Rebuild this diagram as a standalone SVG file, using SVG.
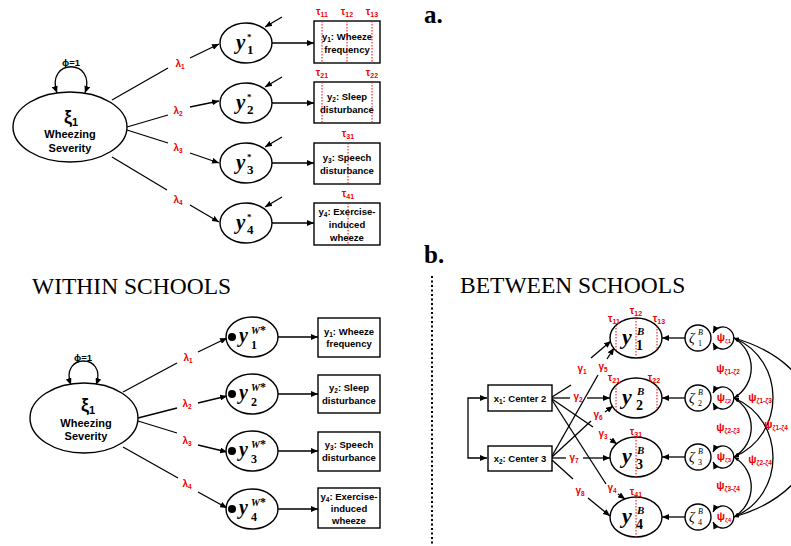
<svg xmlns="http://www.w3.org/2000/svg" width="791" height="546" viewBox="0 0 791 546">
<defs>
<marker id="ah" markerWidth="7" markerHeight="6" refX="7" refY="3" orient="auto-start-reverse" markerUnits="userSpaceOnUse"><path d="M0,0 L7,3 L0,6 z" fill="#000"/></marker>
<marker id="as" markerWidth="5" markerHeight="4" refX="5" refY="2" orient="auto-start-reverse" markerUnits="userSpaceOnUse"><path d="M0,0 L5,2 L0,4 z" fill="#000"/></marker>
</defs>
<style>
.n{fill:#fff;stroke:#000;stroke-width:1.4}
.l{fill:none;stroke:#000;stroke-width:1.3}
.a{marker-end:url(#ah)}
.aa{marker-start:url(#ah);marker-end:url(#ah)}
.cs{marker-start:url(#as);marker-end:url(#as)}
.t{stroke:#e00;stroke-width:1;stroke-dasharray:1.5 1.5;fill:none}
.r{fill:#e00;font-family:'Liberation Sans',Arial,sans-serif;font-weight:bold;font-size:10px;text-anchor:middle}
.p{fill:#e00;font-family:'Liberation Sans',Arial,sans-serif;font-weight:bold;font-size:11px;text-anchor:middle}
.b{fill:#000;font-family:'Liberation Sans',Arial,sans-serif;font-weight:bold;font-size:9.5px;text-anchor:middle}
.bl{fill:#000;font-family:'Liberation Sans',Arial,sans-serif;font-weight:bold;font-size:11px;text-anchor:middle}
.xi{fill:#000;font-family:'Liberation Sans',Arial,sans-serif;font-weight:bold;font-size:18px;text-anchor:middle}
.ttl{font-family:'Liberation Serif','Times New Roman',serif;font-size:23.5px}
.hd{font-family:'Liberation Serif','Times New Roman',serif;font-size:25px;font-weight:bold}
.y{font-family:'Liberation Serif','Times New Roman',serif;font-style:italic;font-weight:bold}
.z{font-family:'Liberation Serif','Times New Roman',serif;font-style:italic}
.s{font-family:'Liberation Serif','Times New Roman',serif;font-weight:bold}
</style>
<rect width="791" height="546" fill="#fff"/>

<text class="hd" x="424" y="23">a.</text>
<text class="hd" x="424" y="263">b.</text>
<line x1="432" y1="276" x2="432" y2="546" stroke="#000" stroke-width="2" stroke-dasharray="2 2.5"/>
<text class="ttl" x="32" y="294">WITHIN SCHOOLS</text>
<text class="ttl" x="460" y="293">BETWEEN SCHOOLS</text>

<!-- ================= PANEL A ================= -->
<g id="connectors-a">
<path class="l aa" d="M57,93 C45,58 97,58 85,93"/>
<text class="b" x="71" y="66">ϕ=1</text>
<path class="l" d="M112,100 L168,68"/><path class="l a" d="M190,58 L219,44"/>
<text class="r" x="180" y="67">λ<tspan font-size="6.5" dy="2">1</tspan></text>
<path class="l" d="M127,127 L168,115"/><path class="l a" d="M190,107 L219,101"/>
<text class="r" x="178" y="114">λ<tspan font-size="6.5" dy="2">2</tspan></text>
<path class="l" d="M127,130 L168,143"/><path class="l a" d="M190,153 L219,163"/>
<text class="r" x="178" y="151">λ<tspan font-size="6.5" dy="2">3</tspan></text>
<path class="l" d="M112,157 L167,190"/><path class="l a" d="M190,205 L219,222"/>
<text class="r" x="178" y="203">λ<tspan font-size="6.5" dy="2">4</tspan></text>
<path class="l a" d="M272,43 L314,43"/>
<path class="l a" d="M272,103 L314,103"/>
<path class="l a" d="M272,163 L314,163"/>
<path class="l a" d="M272,223 L314,223"/>
<path class="l a" d="M282,17 L265,27"/>
<path class="l a" d="M282,77 L265,87"/>
<path class="l a" d="M282,137 L265,147"/>
<path class="l a" d="M282,197 L265,207"/>
</g>

<g id="a-xi">
<ellipse class="n" cx="70" cy="127" rx="57" ry="35"/>
<text class="xi" x="71" y="123">ξ<tspan style="font-size:11px" dy="3">1</tspan></text>
<text class="bl" x="70" y="138">Wheezing</text>
<text class="bl" x="70" y="152">Severity</text>
</g>
<g id="a-y1"><ellipse class="n" cx="246" cy="43" rx="26" ry="20"/>
<text class="y" x="236" y="49" font-size="21">y</text><text class="s" x="247" y="40" font-size="9">*</text><text class="s" x="247" y="54" font-size="13">1</text></g>
<g id="a-y2"><ellipse class="n" cx="246" cy="103" rx="26" ry="20"/>
<text class="y" x="236" y="109" font-size="21">y</text><text class="s" x="247" y="100" font-size="9">*</text><text class="s" x="247" y="114" font-size="13">2</text></g>
<g id="a-y3"><ellipse class="n" cx="246" cy="163" rx="26" ry="20"/>
<text class="y" x="236" y="169" font-size="21">y</text><text class="s" x="247" y="160" font-size="9">*</text><text class="s" x="247" y="174" font-size="13">3</text></g>
<g id="a-y4"><ellipse class="n" cx="246" cy="223" rx="26" ry="20"/>
<text class="y" x="236" y="229" font-size="21">y</text><text class="s" x="247" y="220" font-size="9">*</text><text class="s" x="247" y="234" font-size="13">4</text></g>

<g id="a-box1"><rect class="n" x="314" y="21" width="66" height="42"/>
<text class="b" x="347" y="40">y<tspan font-size="6.5" dy="2">1</tspan><tspan dy="-2">: Wheeze</tspan></text>
<text class="b" x="347" y="53">frequency</text>
<path class="t" d="M322,21 V63 M347,21 V63 M372,21 V63"/>
<text class="r" x="322" y="15">τ<tspan font-size="7" dy="2">11</tspan></text>
<text class="r" x="347" y="15">τ<tspan font-size="7" dy="2">12</tspan></text>
<text class="r" x="372" y="15">τ<tspan font-size="7" dy="2">13</tspan></text></g>
<g id="a-box2"><rect class="n" x="314" y="82" width="66" height="41"/>
<text class="b" x="347" y="100">y<tspan font-size="6.5" dy="2">2</tspan><tspan dy="-2">: Sleep</tspan></text>
<text class="b" x="347" y="113">disturbance</text>
<path class="t" d="M322,82 V123 M372,82 V123"/>
<text class="r" x="322" y="76">τ<tspan font-size="7" dy="2">21</tspan></text>
<text class="r" x="372" y="76">τ<tspan font-size="7" dy="2">22</tspan></text></g>
<g id="a-box3"><rect class="n" x="314" y="143" width="66" height="41"/>
<text class="b" x="347" y="161">y<tspan font-size="6.5" dy="2">3</tspan><tspan dy="-2">: Speech</tspan></text>
<text class="b" x="347" y="174">disturbance</text>
<path class="t" d="M348,143 V184"/>
<text class="r" x="348" y="137">τ<tspan font-size="7" dy="2">31</tspan></text></g>
<g id="a-box4"><rect class="n" x="314" y="203" width="66" height="42"/>
<text class="b" x="347" y="215">y<tspan font-size="6.5" dy="2">4</tspan><tspan dy="-2">: Exercise-</tspan></text>
<text class="b" x="347" y="228">induced</text>
<text class="b" x="347" y="241">wheeze</text>
<path class="t" d="M348,203 V245"/>
<text class="r" x="348" y="197">τ<tspan font-size="7" dy="2">41</tspan></text></g>

<!-- ================= WITHIN ================= -->
<g id="connectors-within">
<path class="l aa" d="M71,385 C59,353 108,353 96,385"/>
<text class="b" x="83" y="361">ϕ=1</text>
<path class="l" d="M123,392 L177,363"/><path class="l a" d="M198,352 L227,338"/>
<text class="r" x="188" y="361">λ<tspan font-size="6.5" dy="2">1</tspan></text>
<path class="l" d="M138,418 L177,408"/><path class="l a" d="M198,403 L227,396"/>
<text class="r" x="187" y="407">λ<tspan font-size="6.5" dy="2">2</tspan></text>
<path class="l" d="M138,421 L177,433"/><path class="l a" d="M198,445 L227,452"/>
<text class="r" x="187" y="444">λ<tspan font-size="6.5" dy="2">3</tspan></text>
<path class="l" d="M123,447 L178,478"/><path class="l a" d="M198,492 L227,508"/>
<text class="r" x="187" y="487">λ<tspan font-size="6.5" dy="2">4</tspan></text>
<path class="l a" d="M278,337 L318,337"/>
<path class="l a" d="M278,394 L318,394"/>
<path class="l a" d="M278,451 L318,451"/>
<path class="l a" d="M278,509 L318,509"/>
</g>

<g id="w-xi">
<ellipse class="n" cx="84" cy="418" rx="54" ry="35"/>
<text class="xi" x="88" y="411">ξ<tspan style="font-size:11px" dy="3">1</tspan></text>
<text class="bl" x="86" y="427">Wheezing</text>
<text class="bl" x="86" y="440">Severity</text>
</g>
<g id="w-y1"><ellipse class="n" cx="252" cy="337" rx="26" ry="20"/><circle cx="232" cy="337" r="4"/>
<text class="y" x="239" y="342" font-size="20">y</text><text class="y" x="251" y="334" font-size="10">W<tspan font-style="normal" font-size="12">*</tspan></text><text class="s" x="251" y="349" font-size="12">1</text></g>
<g id="w-y2"><ellipse class="n" cx="252" cy="394" rx="26" ry="20"/><circle cx="232" cy="394" r="4"/>
<text class="y" x="239" y="399" font-size="20">y</text><text class="y" x="251" y="391" font-size="10">W<tspan font-style="normal" font-size="12">*</tspan></text><text class="s" x="251" y="406" font-size="12">2</text></g>
<g id="w-y3"><ellipse class="n" cx="252" cy="451" rx="26" ry="20"/><circle cx="232" cy="451" r="4"/>
<text class="y" x="239" y="456" font-size="20">y</text><text class="y" x="251" y="448" font-size="10">W<tspan font-style="normal" font-size="12">*</tspan></text><text class="s" x="251" y="463" font-size="12">3</text></g>
<g id="w-y4"><ellipse class="n" cx="252" cy="509" rx="26" ry="20"/><circle cx="232" cy="509" r="4"/>
<text class="y" x="239" y="514" font-size="20">y</text><text class="y" x="251" y="506" font-size="10">W<tspan font-style="normal" font-size="12">*</tspan></text><text class="s" x="251" y="521" font-size="12">4</text></g>

<g id="w-box1"><rect class="n" x="318" y="318" width="62" height="39"/>
<text class="b" x="349" y="335">y<tspan font-size="6.5" dy="2">1</tspan><tspan dy="-2">: Wheeze</tspan></text>
<text class="b" x="349" y="347">frequency</text></g>
<g id="w-box2"><rect class="n" x="318" y="375" width="62" height="38"/>
<text class="b" x="349" y="391">y<tspan font-size="6.5" dy="2">2</tspan><tspan dy="-2">: Sleep</tspan></text>
<text class="b" x="349" y="404">disturbance</text></g>
<g id="w-box3"><rect class="n" x="318" y="432" width="62" height="39"/>
<text class="b" x="349" y="448">y<tspan font-size="6.5" dy="2">3</tspan><tspan dy="-2">: Speech</tspan></text>
<text class="b" x="349" y="461">disturbance</text></g>
<g id="w-box4"><rect class="n" x="318" y="488" width="62" height="40"/>
<text class="b" x="349" y="500">y<tspan font-size="6.5" dy="2">4</tspan><tspan dy="-2">: Exercise-</tspan></text>
<text class="b" x="349" y="512">induced</text>
<text class="b" x="349" y="524">wheeze</text></g>

<!-- ================= BETWEEN ================= -->
<g id="connectors-between">
<path class="l aa" d="M487,398 L468,398 L468,458 L487,458"/>
<path class="l" d="M552,397 L571,385"/><path class="l a" d="M591,358 L611,341"/>
<text class="r" x="582" y="372">γ<tspan font-size="6.5" dy="2">1</tspan></text>
<path class="l" d="M552,398 L570,398"/><path class="l a" d="M587,398 L610,398"/>
<text class="r" x="578" y="400">γ<tspan font-size="6.5" dy="2">2</tspan></text>
<path class="l" d="M552,399 L593,427"/><path class="l a" d="M610,439 L617,444"/>
<text class="r" x="603" y="437">γ<tspan font-size="6.5" dy="2">3</tspan></text>
<path class="l" d="M552,400 L606,484"/><path class="l a" d="M618,494 L625,499"/>
<text class="r" x="612" y="491">γ<tspan font-size="6.5" dy="2">4</tspan></text>
<path class="l" d="M552,456 L598,375"/><path class="l a" d="M607,359 L614,348"/>
<text class="r" x="603" y="370">γ<tspan font-size="6.5" dy="2">5</tspan></text>
<path class="l" d="M552,457 L591,421"/><path class="l a" d="M605,412 L613,406"/>
<text class="r" x="598" y="418">γ<tspan font-size="6.5" dy="2">6</tspan></text>
<path class="l" d="M552,458 L566,458"/><path class="l a" d="M583,458 L610,458"/>
<text class="r" x="574" y="461">γ<tspan font-size="6.5" dy="2">7</tspan></text>
<path class="l" d="M552,460 L573,479"/><path class="l a" d="M588,498 L610,516"/>
<text class="r" x="580" y="494">γ<tspan font-size="6.5" dy="2">8</tspan></text>
<path class="l a" d="M685,338 L662,338"/>
<path class="l a" d="M685,398 L662,398"/>
<path class="l a" d="M685,457 L662,457"/>
<path class="l a" d="M685,517 L662,517"/>
<path class="l aa" d="M713,333 A11,11 0 1 1 713,343"/>
<path class="l aa" d="M713,393 A11,11 0 1 1 713,403"/>
<path class="l aa" d="M713,452 A11,11 0 1 1 713,462"/>
<path class="l aa" d="M713,512 A11,11 0 1 1 713,522"/>
<path class="l cs" d="M734,338 C757,352 757,384 734,398"/>
<path class="l cs" d="M734,398 C757,412 757,443 734,457"/>
<path class="l cs" d="M734,457 C757,471 757,503 734,517"/>
<path class="l cs" d="M734,338 C786,360 786,435 734,457"/>
<path class="l cs" d="M734,398 C786,420 786,495 734,517"/>
<path class="l cs" d="M734,338 C845,370 845,485 734,517"/>
<text class="p" x="728" y="372">ψ<tspan font-size="6.5" dy="2">ζ1-ζ2</tspan></text>
<text class="p" x="728" y="431">ψ<tspan font-size="6.5" dy="2">ζ2-ζ3</tspan></text>
<text class="p" x="728" y="489">ψ<tspan font-size="6.5" dy="2">ζ3-ζ4</tspan></text>
<text class="p" x="760" y="401">ψ<tspan font-size="6.5" dy="2">ζ1-ζ3</tspan></text>
<text class="p" x="760" y="463">ψ<tspan font-size="6.5" dy="2">ζ2-ζ4</tspan></text>
<text class="p" x="776" y="428">ψ<tspan font-size="6.5" dy="2">ζ1-ζ4</tspan></text>
<text class="p" x="724" y="341">ψ<tspan font-size="6" dy="2">ζ1</tspan></text>
<text class="p" x="724" y="401">ψ<tspan font-size="6" dy="2">ζ2</tspan></text>
<text class="p" x="724" y="460">ψ<tspan font-size="6" dy="2">ζ3</tspan></text>
<text class="p" x="724" y="520">ψ<tspan font-size="6" dy="2">ζ4</tspan></text>
</g>

<g id="x1"><rect class="n" x="488" y="385" width="64" height="26"/>
<text class="b" x="520" y="402">x<tspan font-size="6.5" dy="2">1</tspan><tspan dy="-2">: Center 2</tspan></text></g>
<g id="x2"><rect class="n" x="488" y="446" width="64" height="25"/>
<text class="b" x="520" y="462">x<tspan font-size="6.5" dy="2">2</tspan><tspan dy="-2">: Center 3</tspan></text></g>

<g id="yb1"><ellipse class="n" cx="636" cy="338" rx="26" ry="20"/>
<path class="t" d="M616,325 V351 M636,318 V358 M657,326 V350"/>
<text class="y" x="622" y="344" font-size="22">y</text><text class="y" x="637" y="335" font-size="11">B</text><text class="s" x="636" y="350" font-size="14">1</text>
<text class="r" x="614" y="322">τ<tspan font-size="7" dy="2">11</tspan></text>
<text class="r" x="636" y="314">τ<tspan font-size="7" dy="2">12</tspan></text>
<text class="r" x="659" y="322">τ<tspan font-size="7" dy="2">13</tspan></text></g>
<g id="yb2"><ellipse class="n" cx="636" cy="398" rx="26" ry="20"/>
<path class="t" d="M616,385 V411 M657,386 V410"/>
<text class="y" x="622" y="404" font-size="22">y</text><text class="y" x="637" y="395" font-size="11">B</text><text class="s" x="636" y="410" font-size="14">2</text>
<text class="r" x="614" y="381">τ<tspan font-size="7" dy="2">21</tspan></text>
<text class="r" x="654" y="381">τ<tspan font-size="7" dy="2">22</tspan></text></g>
<g id="yb3"><ellipse class="n" cx="636" cy="457" rx="26" ry="20"/>
<path class="t" d="M636,437 V477"/>
<text class="y" x="622" y="463" font-size="22">y</text><text class="y" x="637" y="454" font-size="11">B</text><text class="s" x="636" y="469" font-size="14">3</text>
<text class="r" x="636" y="435">τ<tspan font-size="7" dy="2">31</tspan></text></g>
<g id="yb4"><ellipse class="n" cx="636" cy="517" rx="26" ry="20"/>
<path class="t" d="M636,497 V537"/>
<text class="y" x="622" y="523" font-size="22">y</text><text class="y" x="637" y="514" font-size="11">B</text><text class="s" x="636" y="529" font-size="14">4</text>
<text class="r" x="636" y="495">τ<tspan font-size="7" dy="2">41</tspan></text></g>

<g id="z1"><circle class="n" cx="698" cy="338" r="13"/>
<text class="z" x="689" y="343" font-size="14">ζ</text><text class="z" x="698" y="335" font-size="8">B</text><text x="698" y="346" font-size="8" font-family="Liberation Serif,serif">1</text></g>
<g id="z2"><circle class="n" cx="698" cy="398" r="13"/>
<text class="z" x="689" y="403" font-size="14">ζ</text><text class="z" x="698" y="395" font-size="8">B</text><text x="698" y="406" font-size="8" font-family="Liberation Serif,serif">2</text></g>
<g id="z3"><circle class="n" cx="698" cy="457" r="13"/>
<text class="z" x="689" y="462" font-size="14">ζ</text><text class="z" x="698" y="454" font-size="8">B</text><text x="698" y="465" font-size="8" font-family="Liberation Serif,serif">3</text></g>
<g id="z4"><circle class="n" cx="698" cy="517" r="13"/>
<text class="z" x="689" y="522" font-size="14">ζ</text><text class="z" x="698" y="514" font-size="8">B</text><text x="698" y="525" font-size="8" font-family="Liberation Serif,serif">4</text></g>
</svg>
